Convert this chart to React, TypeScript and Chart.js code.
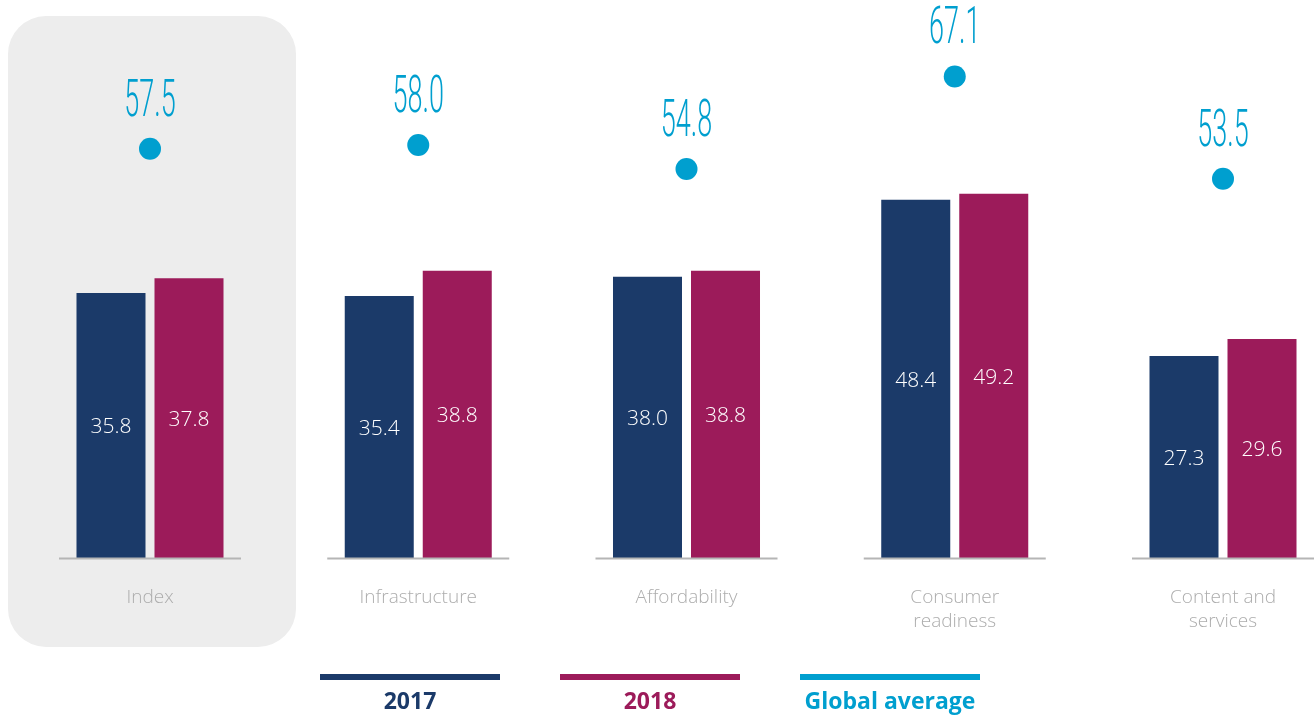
import React, { useEffect, useRef } from "react";
import { Chart, registerables } from "chart.js";

Chart.register(...registerables);

const categories: string[][] = [
  ["Index"],
  ["Infrastructure"],
  ["Affordability"],
  ["Consumer", "readiness"],
  ["Content and", "services"],
];
const values2017 = [35.8, 35.4, 38.0, 48.4, 27.3];
const values2018 = [37.8, 38.8, 38.8, 49.2, 29.6];
const globalAverage = [57.5, 58.0, 54.8, 67.1, 53.5];
const seriesLabels = ["2017", "2018", "Global average"];
const seriesColors = ["#1B3A69", "#9C1B5A", "#009FCF"];

const decorPlugin = {
  id: "decor",
  beforeDraw(chart: any) {
    const ctx = chart.ctx;
    const x = chart.scales.x;
    // highlighted panel behind the first group
    const cx = x.getPixelForValue(0);
    const left = cx - 142;
    const top = 16;
    const w = 288;
    const h = 631;
    const r = 38;
    ctx.save();
    ctx.fillStyle = "#EDEDED";
    ctx.beginPath();
    ctx.moveTo(left + r, top);
    ctx.lineTo(left + w - r, top);
    ctx.arcTo(left + w, top, left + w, top + r, r);
    ctx.lineTo(left + w, top + h - r);
    ctx.arcTo(left + w, top + h, left + w - r, top + h, r);
    ctx.lineTo(left + r, top + h);
    ctx.arcTo(left, top + h, left, top + h - r, r);
    ctx.lineTo(left, top + r);
    ctx.arcTo(left, top, left + r, top, r);
    ctx.closePath();
    ctx.fill();
    ctx.restore();
  },
  afterDatasetsDraw(chart: any) {
    const ctx = chart.ctx;
    const x = chart.scales.x;
    const y = chart.scales.y;
    const base = y.getPixelForValue(0);
    ctx.save();
    // baselines per group
    ctx.strokeStyle = "#B5B5B5";
    ctx.lineWidth = 2;
    for (let i = 0; i < categories.length; i++) {
      const px = x.getPixelForValue(i);
      ctx.beginPath();
      ctx.moveTo(px - 91, base + 0.5);
      ctx.lineTo(px + 91, base + 0.5);
      ctx.stroke();
    }
    // bar value labels
    ctx.fillStyle = "#FFFFFF";
    ctx.font = "300 21px 'Open Sans'";
    ctx.textAlign = "center";
    ctx.textBaseline = "middle";
    [0, 1].forEach((di) => {
      const meta = chart.getDatasetMeta(di);
      const data = chart.data.datasets[di].data as number[];
      meta.data.forEach((el: any, i: number) => {
        ctx.fillText(data[i].toFixed(1), el.x, (el.y + el.base) / 2 + 2);
      });
    });
    // global average labels
    const meta = chart.getDatasetMeta(2);
    const data = chart.data.datasets[2].data as number[];
    ctx.fillStyle = seriesColors[2];
    ctx.font = "300 52px Roboto";
    ctx.textBaseline = "alphabetic";
    meta.data.forEach((el: any, i: number) => {
      ctx.save();
      ctx.translate(el.x, el.y - 33);
      ctx.scale(0.52, 1);
      ctx.fillText(data[i].toFixed(1), 0, 0);
      ctx.restore();
    });
    ctx.restore();
  },
  afterDraw(chart: any) {
    const ctx = chart.ctx;
    ctx.save();
    chart.data.datasets.forEach((ds: any, i: number) => {
      const cx = 410 + 240 * i;
      ctx.fillStyle = seriesColors[i];
      ctx.fillRect(cx - 90, 674, 180, 6);
      ctx.font = "700 23px 'Open Sans'";
      ctx.textAlign = "center";
      ctx.textBaseline = "middle";
      ctx.fillText(ds.label, cx, 702);
    });
    ctx.restore();
  },
};

export default function App() {
  const canvasRef = useRef<HTMLCanvasElement | null>(null);

  useEffect(() => {
    if (!canvasRef.current) return;
    Chart.defaults.font.family = "'Open Sans'";
    const chart = new Chart(canvasRef.current, {
      type: "bar",
      data: {
        labels: categories as any,
        datasets: [
          {
            type: "bar",
            label: seriesLabels[0],
            data: values2017,
            backgroundColor: seriesColors[0],
            yAxisID: "y",
            categoryPercentage: 0.5816,
            barPercentage: 0.8846,
            clip: false as any,
          },
          {
            type: "bar",
            label: seriesLabels[1],
            data: values2018,
            backgroundColor: seriesColors[1],
            yAxisID: "y",
            categoryPercentage: 0.5816,
            barPercentage: 0.8846,
            clip: false as any,
          },
          {
            type: "line",
            label: seriesLabels[2],
            data: globalAverage,
            showLine: false,
            pointRadius: 11,
            pointHoverRadius: 11,
            pointBackgroundColor: seriesColors[2],
            pointBorderWidth: 0,
            borderColor: seriesColors[2],
            yAxisID: "y2",
            clip: false as any,
          },
        ],
      },
      options: {
        animation: false,
        responsive: false,
        devicePixelRatio: 1,
        layout: { padding: { left: 150, right: 91, top: 4, bottom: 53 } },
        plugins: {
          legend: { display: false },
          tooltip: { enabled: false },
        },
        scales: {
          x: {
            offset: false,
            grid: { display: false, drawTicks: false },
            border: { display: false },
            ticks: {
              autoSkip: false,
              maxRotation: 0,
              minRotation: 0,
              padding: 28,
              color: "#ADADAD",
              font: { size: 19, family: "'Open Sans'", weight: "300" as any, lineHeight: 24 / 19 },
            },
          },
          y: { display: false, min: 0, max: 73.9 },
          y2: { display: false, min: 3.1, max: 75.8, position: "right" },
        },
      },
      plugins: [decorPlugin],
    });
    return () => chart.destroy();
  }, []);

  return (
    <div style={{ position: "fixed", left: 0, top: 0, width: 1314, height: 715, background: "#FFFFFF" }}>
      <canvas ref={canvasRef} width={1314} height={715} style={{ width: 1314, height: 715 }} />
    </div>
  );
}
